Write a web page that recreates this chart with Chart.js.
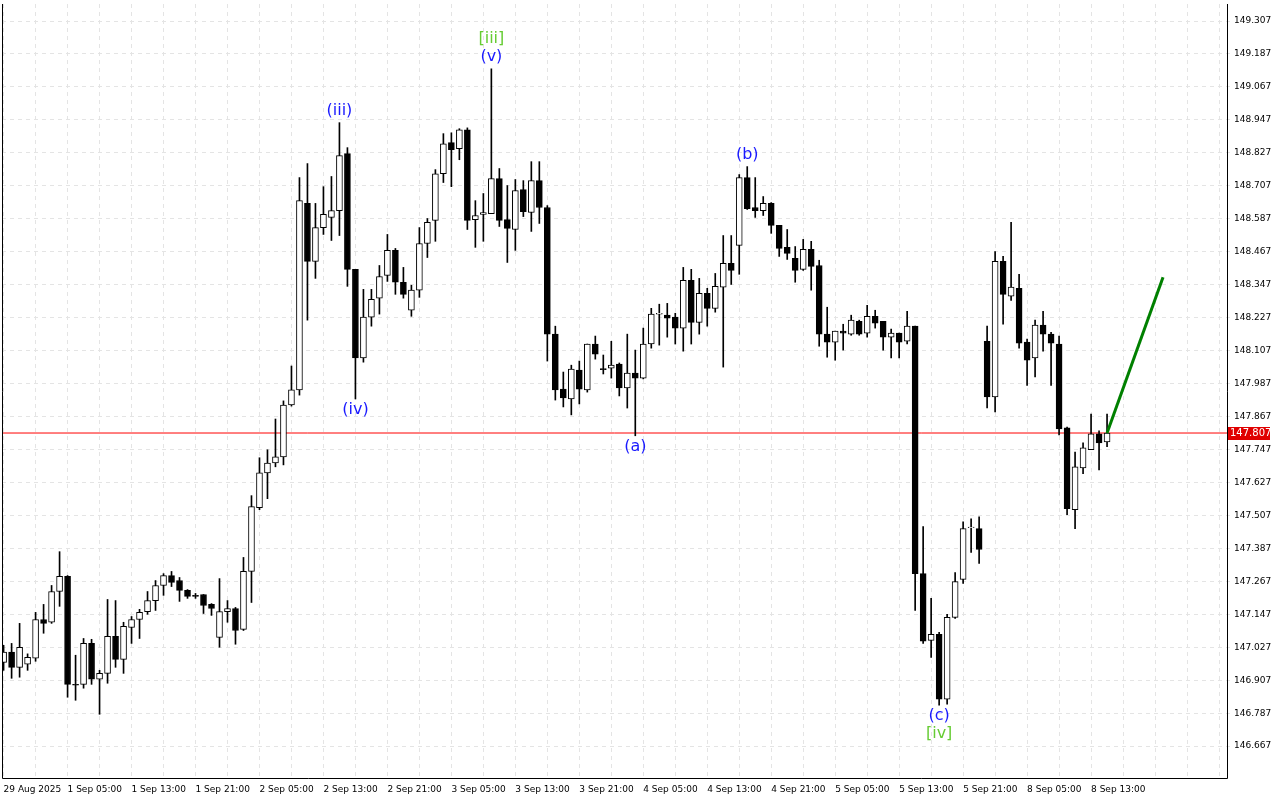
<!DOCTYPE html>
<html>
<head>
<meta charset="utf-8">
<script src="https://cdn.jsdelivr.net/npm/chart.js@4.4.1/dist/chart.umd.min.js"></script>
<style>
  html, body { margin: 0; padding: 0; background: #fff; }
  #wrap { width: 1280px; height: 800px; }
</style>
</head>
<body>
<div id="wrap"><canvas id="chart" width="1280" height="800"></canvas></div>
<script>
// hourly USDJPY-style candles
const opens = [146.972,147.009,146.954,146.965,146.987,147.128,147.118,147.230,147.285,146.892,
  146.892,147.041,146.911,146.932,147.067,146.983,147.099,147.128,147.157,147.197,
  147.252,147.288,147.270,147.234,147.216,147.219,147.183,147.063,147.157,147.168,
  147.092,147.303,147.535,147.662,147.698,147.720,147.909,147.964,148.643,148.432,
  148.555,148.592,148.617,148.824,148.403,148.080,148.229,148.298,148.381,148.472,
  148.356,148.254,148.327,148.497,148.581,148.751,148.864,148.842,148.911,148.584,
  148.603,148.606,148.733,148.584,148.548,148.693,148.610,148.726,148.628,148.167,
  147.967,147.931,148.036,147.964,148.131,148.042,148.043,148.058,147.971,148.025,
  148.007,148.131,148.240,148.236,148.229,148.189,148.363,148.210,148.316,148.261,
  148.338,148.425,148.490,148.737,148.628,148.617,148.643,148.563,148.483,148.443,
  148.403,148.476,148.417,148.167,148.138,148.178,148.167,148.214,148.171,148.232,
  148.214,148.156,148.171,148.141,148.196,147.295,147.052,147.074,146.838,147.136,
  147.274,147.462,147.459,148.141,147.938,148.432,148.305,148.334,148.138,148.080,
  148.200,148.167,148.131,147.826,147.528,147.680,147.746,147.804,147.775];
const highs = [147.034,147.041,147.114,147.003,147.154,147.183,147.252,147.375,147.288,146.998,
  147.059,147.056,146.943,147.201,147.197,147.118,147.139,147.165,147.230,147.270,
  147.295,147.303,147.281,147.237,147.223,147.219,147.186,147.277,147.197,147.172,
  147.354,147.579,147.717,147.746,147.858,147.924,148.051,148.737,148.788,148.643,
  148.704,148.741,148.937,148.846,148.403,148.330,148.330,148.417,148.530,148.479,
  148.410,148.345,148.555,148.588,148.766,148.897,148.900,148.915,148.918,148.653,
  148.679,149.133,148.770,148.708,148.730,148.726,148.795,148.795,148.635,148.196,
  148.029,148.054,148.069,148.131,148.160,148.091,148.141,148.062,148.167,148.109,
  148.189,148.261,148.276,148.279,148.243,148.410,148.403,148.370,148.334,148.388,
  148.526,148.526,148.748,148.777,148.737,148.668,148.646,148.563,148.548,148.486,
  148.512,148.505,148.436,148.265,148.178,148.203,148.236,148.218,148.272,148.254,
  148.214,148.185,148.171,148.250,148.196,147.466,147.205,147.081,147.147,147.299,
  147.484,147.495,147.502,148.196,148.468,148.450,148.574,148.385,148.149,148.218,
  148.250,148.174,148.160,147.829,147.738,147.771,147.876,147.815,147.876];
const lows = [146.943,146.914,146.918,146.943,146.976,147.078,147.114,147.176,146.845,146.834,
  146.878,146.892,146.783,146.896,146.954,146.932,147.041,147.059,147.147,147.161,
  147.216,147.248,147.194,147.205,147.205,147.150,147.143,147.027,147.118,147.038,
  147.088,147.190,147.528,147.568,147.684,147.691,147.905,147.945,148.218,148.370,
  148.530,148.508,148.526,148.341,147.931,148.065,148.196,148.240,148.359,148.312,
  148.298,148.232,148.301,148.446,148.505,148.719,148.704,148.802,148.548,148.483,
  148.505,148.606,148.559,148.428,148.472,148.595,148.541,148.570,148.069,147.927,
  147.902,147.873,147.913,147.956,148.076,148.022,148.007,147.942,147.898,147.797,
  148.004,148.116,148.127,148.156,148.131,148.105,148.131,148.167,148.196,148.247,
  148.047,148.348,148.385,148.621,148.592,148.599,148.534,148.450,148.439,148.356,
  148.399,148.327,148.123,148.083,148.072,148.109,148.163,148.163,148.156,148.189,
  148.109,148.080,148.080,148.131,147.161,147.041,146.990,146.816,146.820,147.132,
  147.259,147.372,147.332,147.898,147.884,148.203,148.290,148.116,147.980,148.011,
  148.105,147.980,147.800,147.510,147.459,147.659,147.746,147.673,147.757];
const closes = [147.009,146.954,147.027,146.990,147.128,147.114,147.230,147.285,146.892,146.889,
  147.041,146.911,146.932,147.067,146.983,147.103,147.128,147.154,147.197,147.252,
  147.288,147.263,147.234,147.212,147.212,147.179,147.168,147.157,147.168,147.088,
  147.303,147.539,147.662,147.698,147.720,147.909,147.964,148.653,148.432,148.555,
  148.603,148.617,148.817,148.403,148.080,148.229,148.294,148.377,148.472,148.356,
  148.312,148.327,148.497,148.574,148.751,148.860,148.839,148.911,148.581,148.599,
  148.610,148.733,148.581,148.552,148.690,148.613,148.726,148.628,148.167,147.964,
  147.935,148.040,147.967,148.131,148.094,148.038,148.054,147.971,148.025,148.007,
  148.131,148.240,148.243,148.225,148.189,148.363,148.210,148.316,148.261,148.341,
  148.425,148.399,148.737,148.624,148.617,148.643,148.563,148.479,148.461,148.399,
  148.476,148.414,148.167,148.138,148.178,148.171,148.218,148.167,148.232,148.207,
  148.156,148.171,148.138,148.196,147.295,147.049,147.074,146.838,147.136,147.266,
  147.459,147.465,147.383,147.938,148.432,148.312,148.338,148.134,148.072,148.200,
  148.167,148.134,147.822,147.532,147.684,147.753,147.804,147.771,147.807];

const timeLabels = ['29 Aug 2025','1 Sep 05:00','1 Sep 13:00','1 Sep 21:00','2 Sep 05:00','2 Sep 13:00',
  '2 Sep 21:00','3 Sep 05:00','3 Sep 13:00','3 Sep 21:00','4 Sep 05:00','4 Sep 13:00','4 Sep 21:00',
  '5 Sep 05:00','5 Sep 13:00','5 Sep 21:00','8 Sep 05:00','8 Sep 13:00'];
const priceTicks = [146.667,146.787,146.907,147.027,147.147,147.267,147.387,147.507,147.627,147.747,
  147.867,147.987,148.107,148.227,148.347,148.467,148.587,148.707,148.827,148.947,149.067,149.187,149.307];

const currentPrice = 147.807;
const forecast = [{ x: 138, y: 147.807 }, { x: 145, y: 148.374 }];

// wave marks: candle index, text, above/below, colour
const waves = [
  { i: 42, text: '(iii)', side: 'up', color: '#1a1aff' },
  { i: 44, text: '(iv)', side: 'down', color: '#1a1aff' },
  { i: 61, text: '(v)', side: 'up', color: '#1a1aff' },
  { i: 61, text: '[iii]', side: 'up2', color: '#66cc33' },
  { i: 79, text: '(a)', side: 'down', color: '#1a1aff' },
  { i: 93, text: '(b)', side: 'up', color: '#1a1aff' },
  { i: 117, text: '(c)', side: 'down', color: '#1a1aff' },
  { i: 117, text: '[iv]', side: 'down2', color: '#66cc33' }
];

const bodies = opens.map((o, i) => ({ x: i, y: [o, closes[i]] }));
const wicks = highs.map((h, i) => ({ x: i, y: [lows[i], h] }));
const bodyColors = opens.map((o, i) => closes[i] >= o ? '#ffffff' : '#000000');

const overlay = {
  id: 'overlay',
  afterDatasetsDraw(chart) {
    const { ctx, scales: { x, y } } = chart;
    ctx.save();
    ctx.font = '16px "DejaVu Sans", sans-serif';
    ctx.textAlign = 'center';
    waves.forEach(w => {
      const px = x.getPixelForValue(w.i);
      let py;
      if (w.side === 'up') { py = y.getPixelForValue(highs[w.i]) - 4; ctx.textBaseline = 'bottom'; }
      if (w.side === 'up2') { py = y.getPixelForValue(highs[w.i]) - 22; ctx.textBaseline = 'bottom'; }
      if (w.side === 'down') { py = y.getPixelForValue(lows[w.i]) + 3; ctx.textBaseline = 'top'; }
      if (w.side === 'down2') { py = y.getPixelForValue(lows[w.i]) + 21; ctx.textBaseline = 'top'; }
      ctx.fillStyle = w.color;
      ctx.fillText(w.text, px, py);
    });
    // frame
    const a = chart.chartArea;
    ctx.strokeStyle = '#000';
    ctx.lineWidth = 1;
    ctx.beginPath();
    ctx.moveTo(a.left + 0.5, a.top);
    ctx.lineTo(a.left + 0.5, a.bottom + 0.5);
    ctx.lineTo(a.right + 0.5, a.bottom + 0.5);
    ctx.lineTo(a.right + 0.5, a.top);
    ctx.stroke();
    // current price tag
    const py = Math.round(y.getPixelForValue(currentPrice));
    ctx.fillStyle = '#e00000';
    ctx.fillRect(a.right + 1, py - 6, 42, 13);
    ctx.fillStyle = '#fff';
    ctx.font = '10px "DejaVu Sans", sans-serif';
    ctx.textAlign = 'left';
    ctx.textBaseline = 'middle';
    ctx.fillText(currentPrice.toFixed(3), a.right + 3, py + 0.5);
    ctx.restore();
  }
};

new Chart(document.getElementById('chart'), {
  type: 'bar',
  data: {
    datasets: [
      {
        type: 'line', data: forecast, borderColor: '#008000', borderWidth: 3,
        pointRadius: 0, order: 0
      },
      {
        type: 'line', data: [{ x: -1, y: currentPrice }, { x: 160, y: currentPrice }],
        borderColor: '#ff0000', borderWidth: 1, pointRadius: 0, order: 3
      },
      {
        data: bodies, backgroundColor: bodyColors, borderColor: '#000', borderWidth: 1,
        borderSkipped: false, barThickness: 6, grouped: false, order: 1
      },
      {
        data: wicks, backgroundColor: '#000', borderWidth: 0,
        barThickness: 1, grouped: false, order: 2
      }
    ]
  },
  options: {
    responsive: false,
    animation: false,
    layout: { padding: { left: 2, top: 4, right: 0, bottom: 0 } },
    plugins: { legend: { display: false }, tooltip: { enabled: false } },
    scales: {
      x: {
        type: 'linear', min: -0.2, max: 153, offset: false,
        grid: { color: '#e4e4e4', tickLength: 4, drawTicks: false, offset: false },
        border: { display: false, dash: [4, 4] },
        afterBuildTicks(scale) {
          const t = [];
          for (let v = 0; v <= 152; v += 4) t.push({ value: v });
          scale.ticks = t;
        },
        afterFit(scale) {
          scale.height = 22;
          scale.paddingLeft = 0;
          scale.paddingRight = 0;
        },
        ticks: {
          align: 'start', maxRotation: 0, autoSkip: false, padding: 6,
          color: '#000', font: { family: 'DejaVu Sans', size: 9 },
          callback: v => (v % 8 === 0 && timeLabels[v / 8]) ? timeLabels[v / 8] : ''
        }
      },
      y: {
        position: 'right', min: 146.551, max: 149.369,
        grid: { color: '#e4e4e4', drawTicks: true, tickLength: 3 },
        border: { display: false, dash: [4, 4] },
        afterBuildTicks(scale) { scale.ticks = priceTicks.map(v => ({ value: v })); },
        afterFit(scale) {
          scale.width = 53;
          scale.paddingTop = 0;
          scale.paddingBottom = 0;
        },
        ticks: {
          color: '#000', padding: 4, font: { family: 'DejaVu Sans', size: 9 },
          callback: v => v.toFixed(3)
        }
      }
    }
  },
  plugins: [overlay]
});
</script>
</body>
</html>
